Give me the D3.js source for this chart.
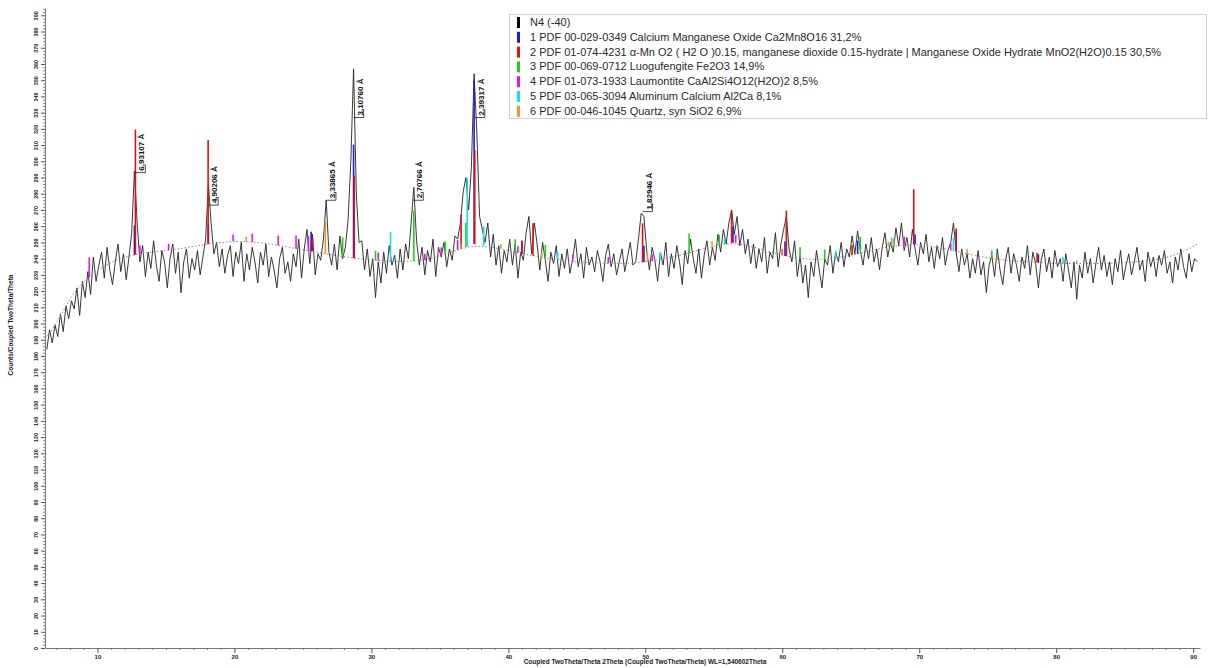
<!DOCTYPE html>
<html>
<head>
<meta charset="utf-8">
<script src="https://cdn.jsdelivr.net/npm/d3@7"></script>
<style>
  body { margin: 0; background: #fff; }
  svg { display: block; }
  text { font-family: "Liberation Sans", Arial, sans-serif; }
</style>
</head>
<body>
<svg id="chart" width="1211" height="668"></svg>
<script>
// Scan N4 (-40): Coupled TwoTheta/Theta, counts sampled every 0.2° 2θ
const scanStart = 6.3;
const scanStep = 0.2;
const scanCounts = [
  184,196,188,199,192, 206,195,211,203,214, 209,222,205,226,216, 232,218,241,226,236,
  244,228,247,233,224, 238,249,232,243,227, 241,256,294,262,238, 248,229,244,234,251,
  236,226,245,238,222, 240,249,231,244,219, 238,246,228,240,233, 245,230,241,252,286,
  262,243,250,235,246, 231,242,248,229,244, 237,250,226,243,233, 247,238,225,244,236,
  249,229,241,233,222, 240,247,231,238,226, 243,235,252,228,246, 258,237,255,230,243,
  239,252,276,244,236, 249,233,254,240,247, 264,300,357,280,250, 251,233,246,229,240,
  216,238,225,244,231, 248,236,242,228,246, 233,249,240,262,284, 251,236,247,230,245,
  238,252,229,247,241, 250,235,246,239,254, 252,262,281,290,270, 296,354,318,266,258,
  250,262,241,255,236, 248,231,245,238,252, 236,249,228,244,239, 256,266,243,262,249,
  233,250,239,226,244, 237,248,229,243,234, 246,231,240,252,235, 243,228,247,236,241,
  232,245,238,226,242, 249,235,243,230,238, 246,232,241,250,236, 238,252,268,266,245,
  233,247,239,226,244, 236,250,229,243,234, 248,238,224,245,237, 252,240,231,246,228,
  242,251,236,247,239, 255,244,258,249,262, 270,255,266,248,258, 243,252,237,249,234,
  246,238,253,231,244, 240,256,235,249,258, 266,246,238,251,229, 242,225,236,216,238,
  229,245,233,222,240, 236,248,231,244,238, 250,235,246,241,254, 243,257,245,236,249,
  240,253,238,246,233, 247,256,241,250,244, 259,248,262,245,253, 241,258,246,236,250,
  243,255,238,247,234, 248,240,253,236,245, 250,262,244,232,246, 236,243,228,240,231,
  245,230,238,219,236, 242,229,246,233,224, 239,247,231,243,236, 226,241,234,248,230,
  244,237,222,239,246, 232,241,228,245,235, 240,226,243,233,222, 238,215,236,228,244,
  231,240,225,237,247, 233,242,229,238,224, 240,232,245,227,236, 243,230,238,247,233,
  239,226,244,235,241, 229,242,236,245,231, 238,225,241,233,246, 235,228,243,232,240,
  238
];

// Fitted background [2θ, counts]
const backgroundCurve = [
  [6.3,192],[7,200],[8,216],[9,226],[10,233],[11,238],[12,241],[13,243],[14,244],
  [16,246],[18,249],[20,251],[22,250],[24,247],[26,244],[28,241],[30,239],[32,238],
  [34,239],[35.5,243],[37.5,249],[39.5,246],[41,243],[43,240],[45,238],[47,237],
  [49,237],[51,239],[53,243],[55,248],[56.5,250],[58,247],[60,242],[62,239],[64,240],
  [66,244],[68,248],[70,249],[72,246],[74,242],[76,239],[78,238],[80,237],[82,237],
  [84,237],[86,238],[88,240],[89.5,245],[90.3,249]
];

// Reference patterns: [2θ, stick height in counts above background]
const phase1Sticks = [[12.7,18],[18.1,12],[25.6,12],[28.7,70],[37.5,101],[41.0,8],[49.9,10],
  [56.4,10],[60.2,9],[65.5,8],[69.7,6],[72.7,12],[78.7,5]];
const phase2Sticks = [[12.77,77],[18.08,64],[25.7,8],[28.75,51],[36.55,21],[37.55,58],[41.0,8],
  [41.8,20],[49.8,24],[56.3,20],[60.3,28],[65.1,6],[69.6,34],[72.7,14],[78.6,6]];
const phase3Sticks = [[27.9,12],[30.3,6],[33.1,31],[35.4,8],[36.9,15],[40.5,8],[42.7,8],
  [53.2,12],[55.4,6],[61.3,7],[63.1,6],[65.7,10],[75.3,5]];
const phase4Sticks = [[9.4,12],[13.1,5],[15.2,4],[19.9,4],[21.3,5],[23.2,6],[24.5,8],[25.4,9],
  [30.5,5],[33.9,4],[35.1,5],[36.3,6],[40.7,4],[44.7,4],[47.3,4],[50.5,4],[56.6,5],
  [60.0,4],[68.9,5],[72.3,4]];
const phase5Sticks = [[31.4,18],[37.0,42],[38.2,12],[43.6,5],[51.1,5],[55.8,4],[63.9,5],
  [68.0,5],[72.5,8],[80.5,4]];
const phase6Sticks = [[20.86,3],[26.64,20],[36.54,3],[39.46,3],[42.45,3],[50.14,6],[54.87,3],
  [59.96,4],[67.74,3],[68.14,4],[73.5,3],[75.7,2],[81.5,2]];

const phaseSticks = [phase1Sticks, phase2Sticks, phase3Sticks, phase4Sticks, phase5Sticks, phase6Sticks];

const legendLabels = [
  "N4 (-40)",
  "1 PDF 00-029-0349 Calcium Manganese Oxide Ca2Mn8O16 31,2%",
  "2 PDF 01-074-4231 α-Mn O2 ( H2 O )0.15, manganese dioxide 0.15-hydrate | Manganese Oxide Hydrate MnO2(H2O)0.15 30,5%",
  "3 PDF 00-069-0712 Luogufengite Fe2O3 14,9%",
  "4 PDF 01-073-1933 Laumontite CaAl2Si4O12(H2O)2 8,5%",
  "5 PDF 03-065-3094 Aluminum Calcium Al2Ca 8,1%",
  "6 PDF 00-046-1045 Quartz, syn SiO2 6,9%"
];
const legendColors = ["#000000", "#1c1cd8", "#e01010", "#22cc22", "#ee10ee", "#10e0f0", "#f09a20"];

// d-spacing labels: text, 2θ of the peak, counts at the label foot
const peakLabels = [
  {text: "6,93107 Å", twoTheta: 12.77, counts: 293},
  {text: "4,90206 Å", twoTheta: 18.08, counts: 273},
  {text: "3,33865 Å", twoTheta: 26.68, counts: 276},
  {text: "3,10760 Å", twoTheta: 28.70, counts: 327},
  {text: "2,70766 Å", twoTheta: 33.06, counts: 276},
  {text: "2,39317 Å", twoTheta: 37.55, counts: 327},
  {text: "1,82946 Å", twoTheta: 49.80, counts: 269}
];

const xTickValues = [10, 20, 30, 40, 50, 60, 70, 80, 90];
const yTickValues = [0,10,20,30,40,50,60,70,80,90,100,110,120,130,140,150,160,170,180,190,
  200,210,220,230,240,250,260,270,280,290,300,310,320,330,340,350,360,370,380,390];

const yTitle = "Counts/Coupled TwoTheta/Theta";
const xTitle = "Coupled TwoTheta/Theta 2Theta (Coupled TwoTheta/Theta) WL=1,540602Theta";

// ---- drawing ----
const svg = d3.select("#chart");
const x = d3.scaleLinear().domain([6.17, 90.5]).range([45, 1200]);
const y = d3.scaleLinear().domain([0, 394.5]).range([648, 8]);

const scan = scanCounts.map((c, i) => [scanStart + i * scanStep, c]);
const bgAt = d3.scaleLinear().domain(backgroundCurve.map(d => d[0])).range(backgroundCurve.map(d => d[1])).clamp(true);

// axes
const xMinor = d3.range(7, 91, 1).filter(v => v % 10 !== 0);
svg.append("g").attr("transform", "translate(0,648)")
  .call(d3.axisBottom(x).tickValues(xMinor).tickSize(2).tickFormat(""))
  .call(g => g.select(".domain").remove())
  .call(g => g.selectAll("line").attr("stroke", "#777"));
svg.append("g").attr("transform", "translate(0,648)")
  .call(d3.axisBottom(x).tickValues(xTickValues).tickSize(5).tickSizeOuter(0).tickFormat(d3.format("d")))
  .call(g => g.select(".domain").attr("stroke", "#777"))
  .call(g => g.selectAll("line").attr("stroke", "#555"))
  .call(g => g.selectAll("text").attr("y", 7).attr("font-size", 6).attr("font-weight", "bold").attr("fill", "#222"));

const yMinor = d3.range(0, 395, 2).filter(v => v % 10 !== 0);
svg.append("g").attr("transform", "translate(45,0)")
  .call(d3.axisLeft(y).tickValues(yMinor).tickSize(2).tickFormat(""))
  .call(g => g.select(".domain").remove())
  .call(g => g.selectAll("line").attr("stroke", "#888"));
svg.append("g").attr("transform", "translate(45,0)")
  .call(d3.axisLeft(y).tickValues(yTickValues).tickSize(4).tickSizeOuter(0).tickFormat(d3.format("d")))
  .call(g => g.select(".domain").attr("stroke", "#777"))
  .call(g => g.selectAll("line").attr("stroke", "#555"))
  .call(g => g.selectAll("text")
      .attr("x", 0).attr("y", 0).attr("dy", "0.35em")
      .attr("text-anchor", "middle")
      .attr("transform", "translate(-9,0) rotate(-90)")
      .attr("font-size", 5.5).attr("font-weight", "bold").attr("fill", "#222"));

svg.append("text")
  .attr("transform", "translate(13,325) rotate(-90)")
  .attr("text-anchor", "middle")
  .attr("font-size", 6.5).attr("font-weight", "bold").attr("fill", "#222")
  .text(yTitle);
svg.append("text")
  .attr("x", 645).attr("y", 664)
  .attr("text-anchor", "middle")
  .attr("font-size", 6.5).attr("font-weight", "bold").attr("fill", "#222")
  .text(xTitle);

// measured scan
svg.append("path")
  .datum(scan)
  .attr("fill", "none")
  .attr("stroke", "#222")
  .attr("stroke-width", 0.9)
  .attr("stroke-linejoin", "round")
  .attr("d", d3.line().x(d => x(d[0])).y(d => y(d[1])));

// background
svg.append("path")
  .datum(backgroundCurve)
  .attr("fill", "none")
  .attr("stroke", "#8a7f9a")
  .attr("stroke-width", 1)
  .attr("stroke-dasharray", "1.5,2")
  .attr("d", d3.line().curve(d3.curveBasis).x(d => x(d[0])).y(d => y(d[1])));

// reference sticks sitting on the background
phaseSticks.forEach((sticks, p) => {
  svg.append("g").selectAll("line")
    .data(sticks)
    .join("line")
    .attr("x1", d => x(d[0])).attr("x2", d => x(d[0]))
    .attr("y1", d => y(bgAt(d[0])))
    .attr("y2", d => y(bgAt(d[0]) + d[1]))
    .attr("stroke", legendColors[p + 1])
    .attr("stroke-width", 1.6);
});

// d-spacing labels
const lbl = svg.append("g");
peakLabels.forEach(d => {
  const px = x(d.twoTheta), py = y(d.counts);
  lbl.append("path")
    .attr("d", `M${px},${py}H${px + 10}V${py - 8}`)
    .attr("fill", "none").attr("stroke", "#222").attr("stroke-width", 0.8);
  lbl.append("text")
    .attr("transform", `translate(${px + 9},${py - 2}) rotate(-90)`)
    .attr("font-size", 8).attr("font-weight", "bold").attr("fill", "#111")
    .text(d.text);
});

// legend
const legend = svg.append("g");
legend.append("rect")
  .attr("x", 509.5).attr("y", 14.5).attr("width", 697).attr("height", 104)
  .attr("fill", "#fff").attr("stroke", "#cfcfcf");
legendLabels.forEach((t, i) => {
  const cy = 22 + i * 14.8;
  legend.append("rect")
    .attr("x", 517).attr("y", cy - 5).attr("width", 3).attr("height", 11)
    .attr("fill", legendColors[i]);
  legend.append("text")
    .attr("x", 530).attr("y", cy + 4)
    .attr("font-size", 11).attr("fill", "#2a2a2a")
    .text(t);
});
</script>
</body>
</html>
